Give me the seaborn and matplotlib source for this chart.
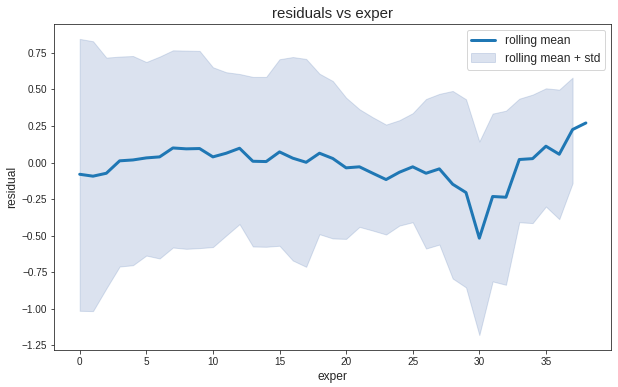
"""
    residuals vs exper: rolling mean with +/- std band
"""

import numpy as np
import pandas as pd
import matplotlib

matplotlib.use("Agg")
import matplotlib.pyplot as plt
import seaborn as sns

exper = list(range(39))

rolling_mean = [
    -0.080, -0.093, -0.073, 0.012, 0.018, 0.032, 0.039, 0.100, 0.094, 0.096,
    0.039, 0.064, 0.098, 0.009, 0.007, 0.073, 0.030, 0.002, 0.064, 0.028,
    -0.036, -0.029, -0.073, -0.116, -0.066, -0.029, -0.073, -0.043, -0.148, -0.205,
    -0.517, -0.232, -0.237, 0.021, 0.027, 0.112, 0.057, 0.226, 0.271,
]

upper = [
    0.846, 0.830, 0.718, 0.725, 0.729, 0.688, 0.725, 0.768, 0.766, 0.764,
    0.652, 0.618, 0.606, 0.586, 0.586, 0.707, 0.722, 0.709, 0.608, 0.558,
    0.444, 0.365, 0.310, 0.260, 0.290, 0.338, 0.435, 0.470, 0.490, 0.433,
    0.144, 0.335, 0.355, 0.437, 0.465, 0.508, 0.499, 0.581, np.nan,
]

lower = [
    -1.014, -1.016, -0.861, -0.711, -0.702, -0.636, -0.656, -0.581, -0.590, -0.585,
    -0.578, -0.499, -0.421, -0.574, -0.576, -0.569, -0.670, -0.713, -0.490, -0.519,
    -0.522, -0.440, -0.465, -0.492, -0.431, -0.408, -0.588, -0.561, -0.793, -0.854,
    -1.180, -0.813, -0.836, -0.408, -0.414, -0.301, -0.387, -0.141, np.nan,
]

df = pd.DataFrame({"exper": exper, "mean": rolling_mean,
                   "upper": upper, "lower": lower})

sns.set_style("ticks")
plt.rcParams["font.family"] = ["Liberation Sans", "DejaVu Sans"]

fig, ax = plt.subplots(figsize=(618 / 72, 387 / 72), dpi=72)
fig.subplots_adjust(left=0.088, right=0.989, top=0.938, bottom=0.096)

sns.lineplot(data=df, x="exper", y="mean", ax=ax, color="#1f77b4",
             linewidth=3, label="rolling mean")
band = df.dropna()
ax.fill_between(band["exper"], band["lower"], band["upper"],
                color="#4c72b0", alpha=0.2, label="rolling mean + std")

ax.set_xlim(-1.9, 39.9)
ax.set_ylim(-1.281, 0.948)
ax.set_title("residuals vs exper", fontsize=15)
ax.set_xlabel("exper", fontsize=12)
ax.set_ylabel("residual", fontsize=12)
ax.tick_params(labelsize=10)
ax.legend(loc="upper right", fontsize=12)

fig.savefig("out.png", dpi=72)
